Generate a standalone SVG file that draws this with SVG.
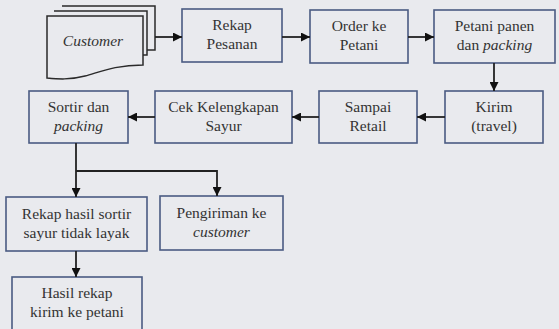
<svg xmlns="http://www.w3.org/2000/svg" width="559" height="329" viewBox="0 0 559 329">
<style>
.bg{fill:#e9eaee}
.box{fill:#e9eaee;stroke:#4a5b82;stroke-width:1.6}
.doc{fill:#e9eaee;stroke:#2a2a2a;stroke-width:1.5}
.t{font-family:'Liberation Serif','Times New Roman',serif;font-size:15.5px;fill:#333;text-anchor:middle}
.i{font-style:italic}
.c{fill:none;stroke:#222;stroke-width:1.8}
</style>
<defs>
<marker id="ah" viewBox="0 0 10 10" refX="10" refY="5" markerWidth="5" markerHeight="5" orient="auto" markerUnits="strokeWidth">
<path d="M0,0 L10,5 L0,10 z" fill="#111"/>
</marker>
</defs>
<rect class="bg" x="0" y="0" width="559" height="329"/>

<g id="customer">
<path class="doc" d="M62,6 H155 V50 H147"/>
<path class="doc" d="M54,11 H147 V55 H143"/>
<path class="doc" d="M47,16 H143 V65 C115,65 100,72 85,76 C70,80 58,79 47,78 Z"/>
<text class="t i" x="93" y="46">Customer</text>
</g>

<g id="rekap-pesanan">
<rect class="box" x="182" y="9" width="100" height="53"/>
<text class="t" x="232" y="30">Rekap</text>
<text class="t" x="232" y="49">Pesanan</text>
</g>

<g id="order-petani">
<rect class="box" x="310" y="10" width="98" height="53"/>
<text class="t" x="359" y="31">Order ke</text>
<text class="t" x="359" y="50">Petani</text>
</g>

<g id="petani-panen">
<rect class="box" x="434" y="10" width="121" height="53"/>
<text class="t" x="494.5" y="31">Petani panen</text>
<text class="t" x="494.5" y="50">dan <tspan class="i">packing</tspan></text>
</g>

<g id="kirim">
<rect class="box" x="445" y="91" width="98" height="52"/>
<text class="t" x="494" y="112">Kirim</text>
<text class="t" x="494" y="131">(travel)</text>
</g>

<g id="sampai-retail">
<rect class="box" x="319" y="91" width="98" height="52"/>
<text class="t" x="368" y="112">Sampai</text>
<text class="t" x="368" y="131">Retail</text>
</g>

<g id="cek-kelengkapan">
<rect class="box" x="155" y="91" width="137" height="52"/>
<text class="t" x="223.5" y="112">Cek Kelengkapan</text>
<text class="t" x="223.5" y="131">Sayur</text>
</g>

<g id="sortir-packing">
<rect class="box" x="29" y="91" width="99" height="52"/>
<text class="t" x="78.5" y="112">Sortir dan</text>
<text class="t i" x="78.5" y="131">packing</text>
</g>

<g id="rekap-hasil">
<rect class="box" x="6" y="197" width="141" height="54"/>
<text class="t" x="76.5" y="219">Rekap hasil sortir</text>
<text class="t" x="76.5" y="238">sayur tidak layak</text>
</g>

<g id="pengiriman">
<rect class="box" x="160" y="196" width="123" height="54"/>
<text class="t" x="221.5" y="218">Pengiriman ke</text>
<text class="t i" x="221.5" y="237">customer</text>
</g>

<g id="hasil-rekap">
<rect class="box" x="12" y="277" width="130" height="60"/>
<text class="t" x="77" y="298">Hasil rekap</text>
<text class="t" x="77" y="317">kirim ke petani</text>
</g>

<g id="connectors">
<path class="c" d="M155,37 H182" marker-end="url(#ah)"/>
<path class="c" d="M282,37 H310" marker-end="url(#ah)"/>
<path class="c" d="M408,37 H434" marker-end="url(#ah)"/>
<path class="c" d="M494,63 V91" marker-end="url(#ah)"/>
<path class="c" d="M445,117 H417" marker-end="url(#ah)"/>
<path class="c" d="M319,117 H292" marker-end="url(#ah)"/>
<path class="c" d="M155,117 H128" marker-end="url(#ah)"/>
<path class="c" d="M76,143 V197" marker-end="url(#ah)"/>
<path class="c" d="M76,171 H217 V196" marker-end="url(#ah)"/>
<path class="c" d="M76,251 V277" marker-end="url(#ah)"/>
</g>
</svg>
